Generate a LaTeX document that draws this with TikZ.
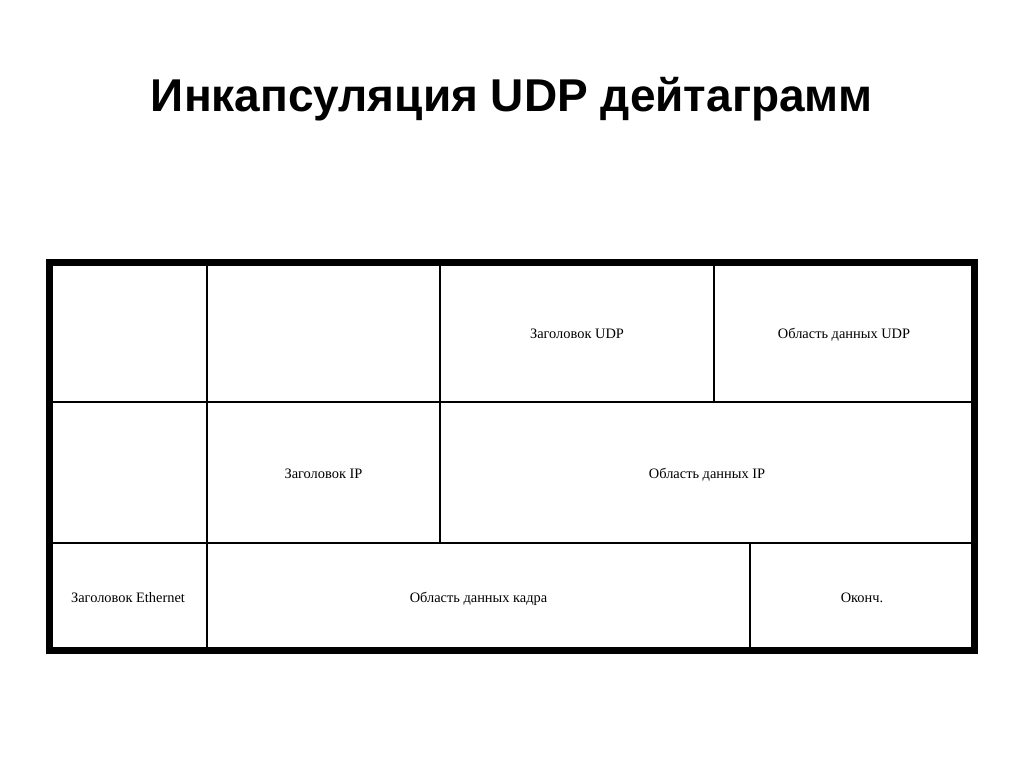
\documentclass[tikz,border=0pt]{standalone}
\usepackage{fontspec}
\setmainfont{Liberation Serif}
\newfontfamily\titlefont{Liberation Sans}

\begin{document}
\begin{tikzpicture}[x=1pt, y=-1pt,
		grid/.style={line width=1.5pt},
		frame/.style={line width=7pt},
		field/.style={anchor=base, font=\fontsize{14.4}{16}\selectfont}]
		\useasboundingbox (0,0) rectangle (1024,767);

		\node[anchor=base, font=\titlefont\bfseries\fontsize{46}{52}\selectfont] (title) at (512,112) {Инкапсуляция UDP дейтаграмм};

		\draw[grid] (49.5,402) -- (974,402);
		\draw[grid] (49.5,543) -- (974,543);
		\draw[grid] (207,262) -- (207,650);
		\draw[grid] (440,262) -- (440,543);
		\draw[grid] (714,262) -- (714,402);
		\draw[grid] (750,543) -- (750,650);
		\draw[frame] (49.5,262) rectangle (974,650);

		\node[field] (udphead) at (577,338) {Заголовок UDP};
		\node[field] (udpdata) at (844,338) {Область данных UDP};
		\node[field] (iphead) at (323.5,478) {Заголовок IP};
		\node[field] (ipdata) at (707,478) {Область данных IP};
		\node[field] (ethhead) at (128,602) {Заголовок Ethernet};
		\node[field] (framedata) at (478.5,602) {Область данных кадра};
		\node[field] (trailer) at (862,602) {Оконч.};
	\end{tikzpicture}
\end{document}
